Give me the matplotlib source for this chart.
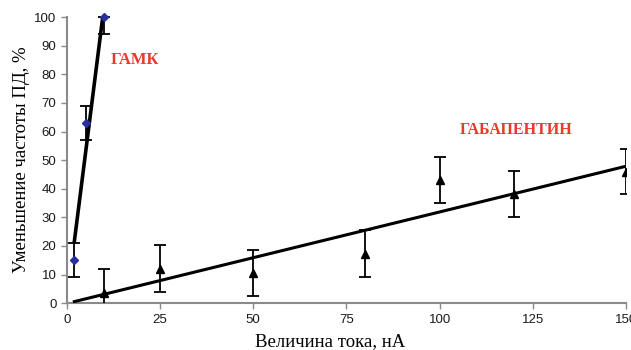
import numpy as np
import matplotlib
matplotlib.use("Agg")
from matplotlib import pyplot as plt

# ГАМК
gaba_x = [2, 5, 10]
gaba_y = [15, 63, 100]
gaba_err_low = [6, 6, 6]
gaba_err_high = [6, 6, 0]

# габапентин
gbp_x = [10, 25, 50, 80, 100, 120, 150]
gbp_y = [3.4, 12.1, 10.4, 17.2, 43, 38.2, 46]
gbp_err = [8.4, 8.1, 8.0, 8.2, 8.0, 8.1, 8.0]

x_ticks = [0, 25, 50, 75, 100, 125, 150]
y_ticks = list(range(0, 101, 10))


def trend(x, y, x0, x1):
    # linear trendline like in excel
    k, b = np.polyfit(x, y, 1)
    xs = np.array([x0, x1])
    return xs, k * xs + b


def main():
    fig = plt.figure(figsize=(6.31, 3.5), dpi=100)
    ax = fig.add_axes([0.106, 0.134, 0.886, 0.817])

    # trend lines
    tx, ty = trend(gaba_x, gaba_y, 2, 10)
    ax.plot(tx, ty, color="black", lw=2.6, zorder=3)
    tx, ty = trend(gbp_x, gbp_y, 2, 150)
    ax.plot(tx, ty, color="black", lw=2.2, zorder=3)

    ax.errorbar(gaba_x, gaba_y, yerr=[gaba_err_low, gaba_err_high], fmt="D",
                color="#2a2f9e", ms=4, ecolor="black", elinewidth=1.3,
                capsize=4, capthick=1.3, zorder=4, clip_on=False)
    ax.errorbar(gbp_x, gbp_y, yerr=gbp_err, fmt="^", color="black", ms=6,
                ecolor="black", elinewidth=1.3, capsize=4, capthick=1.3, zorder=4)

    ax.set_xlim(0, 150)
    ax.set_ylim(0, 100)
    ax.set_xticks(x_ticks)
    ax.set_yticks(y_ticks)

    for s in ["top", "right"]:
        ax.spines[s].set_visible(False)
    for s in ["left", "bottom"]:
        ax.spines[s].set_color("#8a8a8a")
        ax.spines[s].set_linewidth(1.5)
    ax.tick_params(direction="out", length=4, width=1, color="#8a8a8a",
                   labelsize=9.5, labelcolor="#1a1a1a")
    for lab in ax.get_xticklabels() + ax.get_yticklabels():
        lab.set_family("Liberation Sans")

    ax.set_ylabel("Уменьшение частоты ПД, %", family="Liberation Serif",
                  fontsize=13.5, labelpad=3)
    ax.set_xlabel("Величина тока, нА", family="Liberation Serif",
                  fontsize=13.5)
    ax.xaxis.set_label_coords(0.47, -0.105)

    ax.text(11.8, 85, "ГАМК", color="#e8392b", family="Liberation Serif",
            fontweight="bold", fontsize=12, va="center")
    ax.text(105.5, 60.5, "ГАБАПЕНТИН", color="#e8392b", family="Liberation Serif",
            fontweight="bold", fontsize=11.5, va="center")

    fig.savefig("out.png", dpi=100)


if __name__ == "__main__":
    main()
